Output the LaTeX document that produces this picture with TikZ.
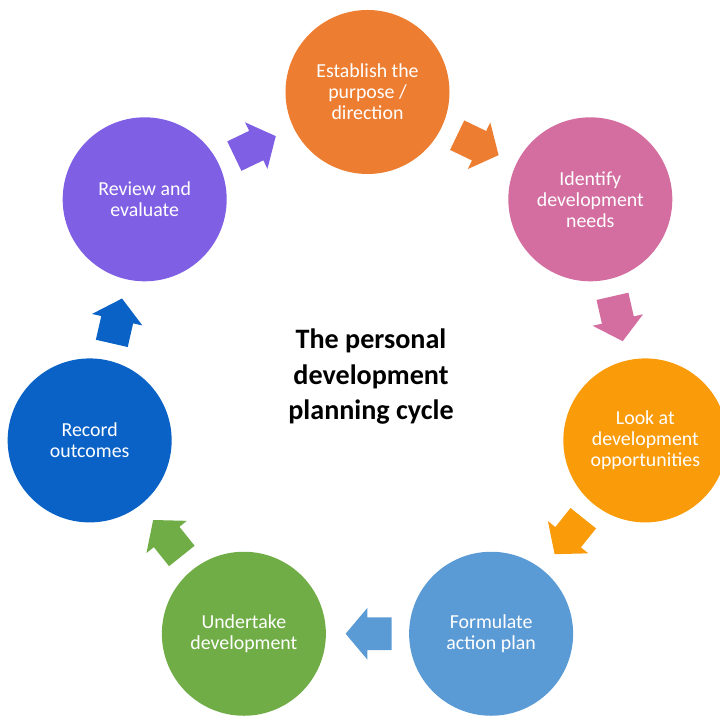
\documentclass[tikz,border=0pt]{standalone}
\usepackage{fontspec}
\setmainfont{Carlito}
\usepackage{tikz}
\usetikzlibrary{shapes.arrows, calc}
\definecolor{stageOrange}{RGB}{237,125,49}
\definecolor{stagePink}{RGB}{212,110,160}
\definecolor{stageAmber}{RGB}{250,155,10}
\definecolor{stageSky}{RGB}{91,155,213}
\definecolor{stageGreen}{RGB}{112,173,71}
\definecolor{stageBlue}{RGB}{10,98,198}
\definecolor{stagePurple}{RGB}{127,95,228}
\tikzstyle{stage} = [circle, minimum size = 3.28cm, inner sep = 0pt, align = center, text = white, font = \fontsize{11.3}{12}\selectfont]
\tikzstyle{blockArrow} = [single arrow, minimum height = 0.92cm, minimum width = 1.02cm, inner xsep = 0pt, inner ysep = 0.32cm, single arrow head extend = 0.19cm, single arrow tip angle = 100, xshift = -0.16cm]
\tikzstyle{title} = [align = center, font = \bfseries\fontsize{16}{20.2}\selectfont]

\begin{document}
\begin{tikzpicture}
                    \clip (-7.35,-6.82) rectangle (7.05,7.54);
                    \node (1) [stage, fill = stageOrange] at (90:5.7) {Establish the\\purpose /\\direction};
                    \node (2) [stage, fill = stagePink] at (38.57:5.7) {Identify\\development\\needs};
                    \node (3) [stage, fill = stageAmber] at (-12.86:5.7) {Look at\\development\\opportunities};
                    \node (4) [stage, fill = stageSky] at (-64.29:5.7) {Formulate\\action plan};
                    \node (5) [stage, fill = stageGreen] at (-115.71:5.7) {Undertake\\development};
                    \node (6) [stage, fill = stageBlue] at (-167.14:5.7) {Record\\outcomes};
                    \node (7) [stage, fill = stagePurple] at (141.43:5.7) {Review and\\evaluate};
                    \node (title) [title] at (0.07,0) {The personal\\development\\planning cycle};
                    \node (a12) [rotate = -25.71, blockArrow, fill = stageOrange] at ($(1)!0.5!(2)$) {};
                    \node (a23) [rotate = -77.14, blockArrow, fill = stagePink] at ($(2)!0.5!(3)$) {};
                    \node (a34) [rotate = -128.57, blockArrow, fill = stageAmber] at ($(3)!0.5!(4)$) {};
                    \node (a45) [rotate = 180, blockArrow, fill = stageSky] at ($(4)!0.5!(5)$) {};
                    \node (a56) [rotate = 128.57, blockArrow, fill = stageGreen] at ($(5)!0.5!(6)$) {};
                    \node (a67) [rotate = 77.14, blockArrow, fill = stageBlue] at ($(6)!0.5!(7)$) {};
                    \node (a71) [rotate = 25.71, blockArrow, fill = stagePurple] at ($(7)!0.5!(1)$) {};
                \end{tikzpicture}
\end{document}
